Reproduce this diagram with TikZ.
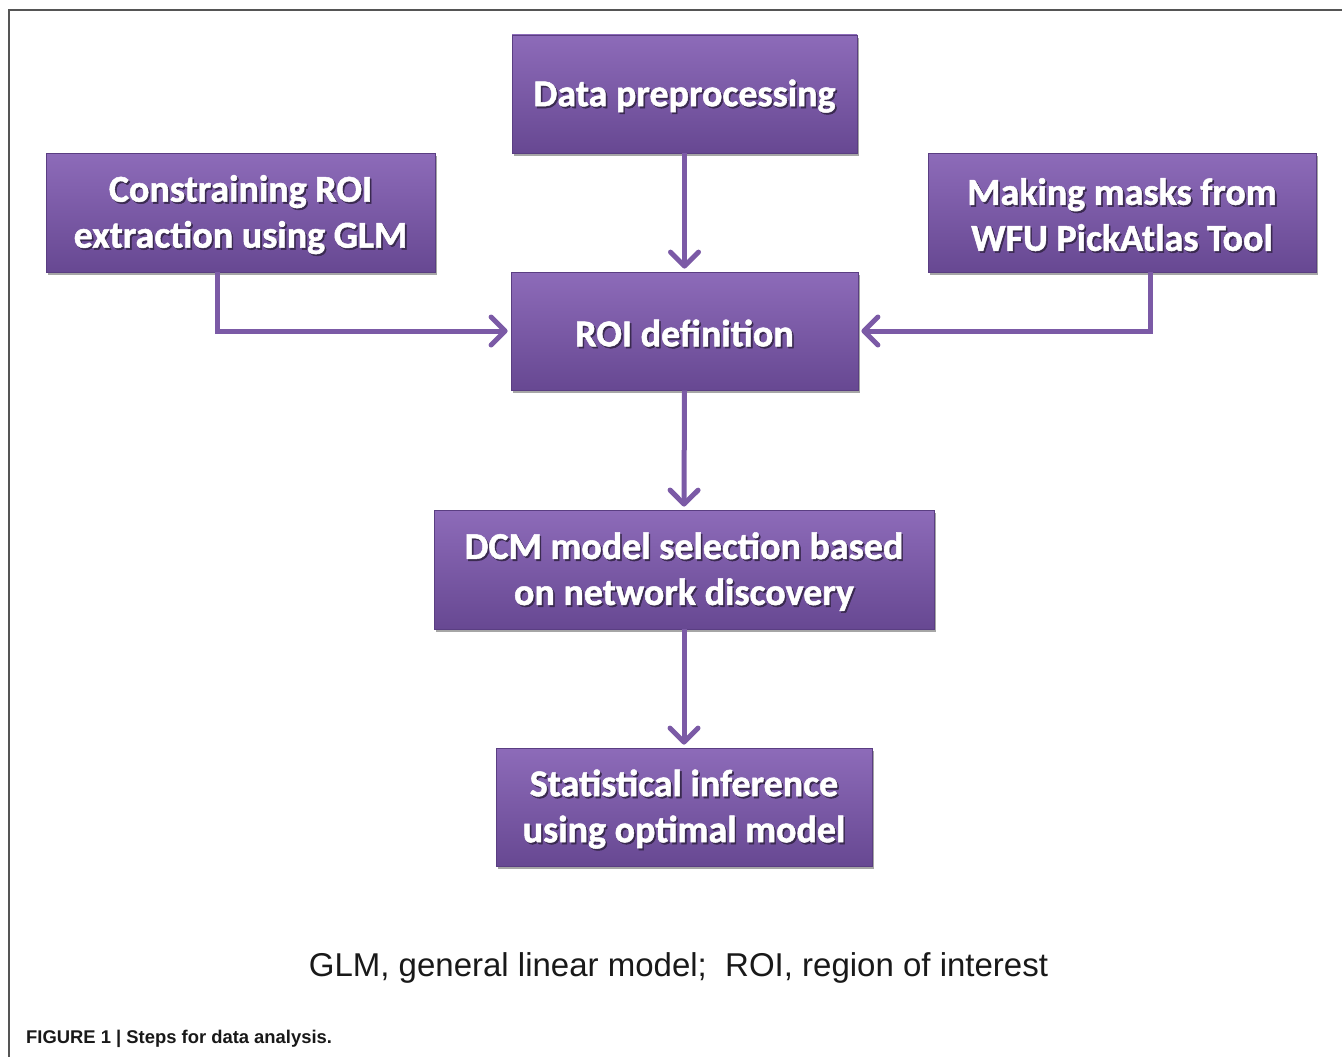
\documentclass[tikz,border=0pt]{standalone}
\usepackage{fontspec}
\setmainfont{Liberation Sans}
\newfontfamily\boxfont{Carlito}[BoldFeatures={FakeBold=1.3}]
\usetikzlibrary{arrows.meta,shadows}
\definecolor{arrowpurple}{HTML}{7B5AA6}
\definecolor{boxtop}{HTML}{8D6BB9}
\definecolor{boxbot}{HTML}{674892}
\definecolor{boxedge}{HTML}{5A3E82}
\definecolor{framegray}{HTML}{555555}
\definecolor{txtshadow}{HTML}{3A2A50}
\newcommand\shtxt[1]{\leavevmode\raisebox{-3pt}[\height][\depth]{\rlap{\hspace{1.6pt}\raisebox{-1.8pt}{\color{txtshadow}#1}}#1}}
\tikzset{
  stepbox/.style={rectangle, inner sep=0pt, top color=boxtop, bottom color=boxbot,
    draw=boxedge, line width=0.8pt, text=white, align=center,
    font=\boxfont\bfseries\fontsize{38}{46}\selectfont,
    drop shadow={shadow xshift=2pt, shadow yshift=-3pt, opacity=0.35, fill=black}},
  arr/.style={draw=arrowpurple, line width=5pt,
    -{Straight Barb[length=14pt, width=28pt, line width=5pt, round]}},
}
\begin{document}
\begin{tikzpicture}[x=1pt,y=-1pt]
\useasboundingbox (0,0) rectangle (1342,1057);
\fill[white] (0,0) rectangle (1342,1057);
\coordinate (ftop) at (1342,10);
\coordinate (fcorner) at (9,10);
\coordinate (fbot) at (9,1057);
\draw[framegray, line width=2pt] (ftop) -- (fcorner) -- (fbot);

\node[stepbox, minimum width=345pt, minimum height=118pt] (data) at (684.5,94) {\shtxt{Data preprocessing}};
\node[stepbox, minimum width=389pt, minimum height=119pt] (cons) at (240.5,212.5) {\shtxt{Constraining ROI}\\\shtxt{extraction using GLM}};
\node[stepbox, minimum width=388pt, minimum height=119pt] (mask) at (1122,212.5) {\shtxt{Making masks from}\\\shtxt{WFU PickAtlas Tool}};
\node[stepbox, minimum width=347pt, minimum height=118pt] (roi) at (684.5,331) {\shtxt{ROI definition}};
\node[stepbox, minimum width=500pt, minimum height=119pt] (dcm) at (684,569.5) {\shtxt{DCM model selection based}\\\shtxt{on network discovery}};
\node[stepbox, minimum width=376pt, minimum height=118pt] (stat) at (684,807) {\shtxt{Statistical inference}\\\shtxt{using optimal model}};

\draw[arr] (data.south) -- ([yshift=3pt]roi.north);
\draw[arr] ([xshift=-23.5pt]cons.south) |- ([xshift=-3pt]roi.west);
\draw[arr] ([xshift=28pt]mask.south) |- ([xshift=3pt]roi.east);
\draw[arr] (roi.south) -- ([yshift=3pt]dcm.north);
\draw[arr] (dcm.south) -- ([yshift=3pt]stat.north);

\node[font=\fontsize{33}{40}\selectfont, text=black!90] (legend) at (678.5,968) {GLM, general linear model;\ \ ROI, region of interest};
\node[font=\bfseries\fontsize{18.4}{22}\selectfont, text=black!90, anchor=west, inner sep=0pt] (caption) at (26,1039) {FIGURE 1 | Steps for data analysis.};
\end{tikzpicture}
\end{document}
